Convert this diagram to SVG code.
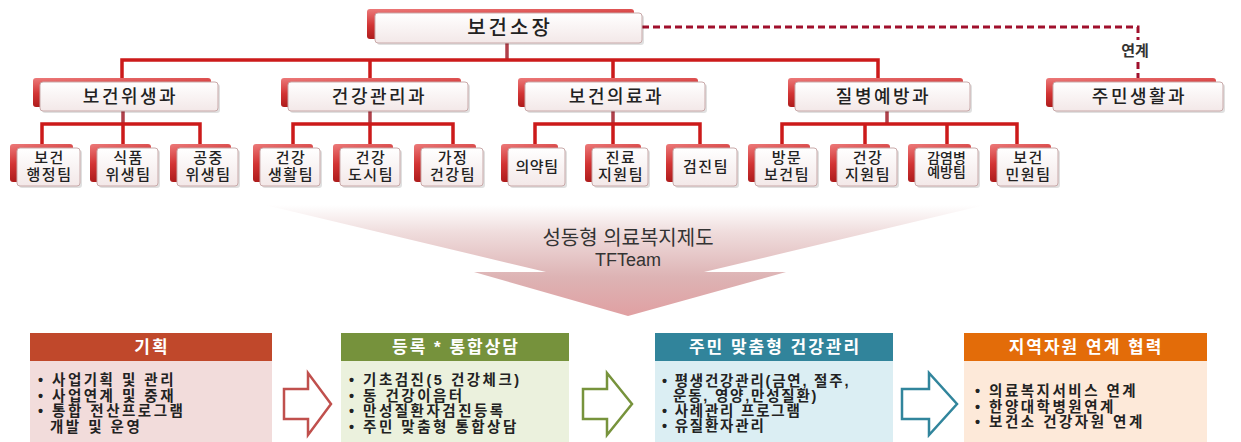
<svg xmlns="http://www.w3.org/2000/svg" width="1241" height="442" viewBox="0 0 1241 442">
<defs>
<linearGradient id="gBack" x1="0" y1="0" x2="0.3" y2="1">
<stop offset="0" stop-color="#ec7a7a"/>
<stop offset="0.5" stop-color="#d23434"/>
<stop offset="1" stop-color="#a81818"/>
</linearGradient>
<linearGradient id="gFront" x1="0" y1="0" x2="0" y2="1">
<stop offset="0" stop-color="#ffffff"/>
<stop offset="1" stop-color="#f3e8e8"/>
</linearGradient>
<linearGradient id="gFunnel" x1="0" y1="0" x2="0" y2="1">
<stop offset="0" stop-color="#ffffff"/>
<stop offset="0.25" stop-color="#efdcdc"/>
<stop offset="0.65" stop-color="#ddb3b4"/>
<stop offset="1" stop-color="#e0a0a2"/>
</linearGradient>
<style>
.back{fill:url(#gBack);}
.front{fill:url(#gFront);stroke:#c9a9a9;stroke-width:1;}
.shadow{fill:#000;opacity:0.12;}
.t{font-family:"Liberation Sans","Noto Sans CJK KR",sans-serif;fill:#222;text-anchor:middle;}
.n1{font-size:20px;font-weight:500;letter-spacing:3px;}
.n2{font-size:18px;font-weight:500;letter-spacing:2.5px;}
.n3{font-size:15px;font-weight:500;letter-spacing:1.5px;}
.ln{fill:none;stroke:#cc1a1a;stroke-width:3.5;}
.stem{fill:none;stroke:#b0404a;stroke-width:3.5;}
.dash{fill:none;stroke:#a0102c;stroke-width:3;stroke-dasharray:7 4;}
.hd{font-family:"Liberation Sans","Noto Sans CJK KR",sans-serif;font-size:17px;font-weight:700;fill:#fff;text-anchor:middle;letter-spacing:2px;}
.bt{font-family:"Liberation Sans","Noto Sans CJK KR",sans-serif;font-size:14.5px;font-weight:700;fill:#222;letter-spacing:2.5px;}
.arr{fill:#fff;stroke-width:2.5;stroke-linejoin:miter;}
</style>
</defs>
<rect width="1241" height="442" fill="#fff"/>

<!-- funnel arrow -->
<g id="funnel">
<path d="M265,205 L985,205 L704,272 L786,272 L628,316 L474,272 L546,272 Z" fill="url(#gFunnel)"/>
<text class="t" x="628" y="245" style="font-size:20px;fill:#333">성동형 의료복지제도</text>
<text class="t" x="628" y="266" style="font-size:18px;fill:#333">TFTeam</text>
</g>

<!-- connectors -->
<g id="connectors">
<path class="stem" d="M507,43 V60"/>
<path class="ln" d="M122,78 V60 H878 V78 M370,60 V78 M613,60 V78"/>
<path class="stem" d="M123,110 V124 M370,110 V124 M613,110 V124 M887,110 V124"/>
<path class="ln" d="M42,144 V124 H200 V144 M123,124 V144"/>
<path class="ln" d="M293,144 V124 H453 V144 M370,124 V144"/>
<path class="ln" d="M535,144 V124 H700 V144 M613,124 V144"/>
<path class="ln" d="M782,144 V124 H1017 V144 M865,124 V144 M947,124 V144"/>
<path class="dash" d="M642,27 H1138 V40 M1138,62 V79"/>
<text class="t" x="1135" y="56" style="font-size:15px;font-weight:700;fill:#333">연계</text>
</g>

<!-- top node -->
<g id="n-boss">
<rect class="back" x="367" y="9" width="267" height="30" rx="3"/>
<rect class="shadow" x="377" y="15" width="267" height="30" rx="3"/>
<rect class="front" x="375" y="13" width="267" height="30" rx="3"/>
<text class="t n1" x="510" y="35">보건소장</text>
</g>

<!-- level 2 -->
<g id="n-d1">
<rect class="back" x="33" y="78" width="178" height="29" rx="3"/>
<rect class="shadow" x="42" y="84" width="178" height="29" rx="3"/>
<rect class="front" x="40" y="82" width="178" height="29" rx="3"/>
<text class="t n2" x="130.5" y="103">보건위생과</text>
</g>
<g id="n-d2">
<rect class="back" x="281" y="78" width="180" height="29" rx="3"/>
<rect class="shadow" x="290" y="84" width="180" height="29" rx="3"/>
<rect class="front" x="288" y="82" width="180" height="29" rx="3"/>
<text class="t n2" x="379.5" y="103">건강관리과</text>
</g>
<g id="n-d3">
<rect class="back" x="518" y="78" width="180" height="29" rx="3"/>
<rect class="shadow" x="527" y="84" width="180" height="29" rx="3"/>
<rect class="front" x="525" y="82" width="180" height="29" rx="3"/>
<text class="t n2" x="616.5" y="103">보건의료과</text>
</g>
<g id="n-d4">
<rect class="back" x="788" y="78" width="175" height="29" rx="3"/>
<rect class="shadow" x="797" y="84" width="175" height="29" rx="3"/>
<rect class="front" x="795" y="82" width="175" height="29" rx="3"/>
<text class="t n2" x="883.5" y="103">질병예방과</text>
</g>
<g id="n-d5">
<rect class="back" x="1046" y="78" width="170" height="29" rx="3"/>
<rect class="shadow" x="1055" y="84" width="170" height="29" rx="3"/>
<rect class="front" x="1053" y="82" width="170" height="29" rx="3"/>
<text class="t n2" x="1139.5" y="103">주민생활과</text>
</g>

<!-- teams -->
<g id="n-t1">
<rect class="back" x="10" y="144" width="63" height="38" rx="3"/>
<rect class="shadow" x="19" y="150" width="63" height="38" rx="3"/>
<rect class="front" x="17" y="148" width="63" height="38" rx="3"/>
<text class="t n3"><tspan x="49.5" y="163">보건</tspan><tspan x="49.5" y="180">행정팀</tspan></text>
</g>
<g id="n-t2">
<rect class="back" x="90" y="144" width="61" height="38" rx="3"/>
<rect class="shadow" x="99" y="150" width="61" height="38" rx="3"/>
<rect class="front" x="97" y="148" width="61" height="38" rx="3"/>
<text class="t n3"><tspan x="128.5" y="163">식품</tspan><tspan x="128.5" y="180">위생팀</tspan></text>
</g>
<g id="n-t3">
<rect class="back" x="170" y="144" width="61" height="38" rx="3"/>
<rect class="shadow" x="179" y="150" width="61" height="38" rx="3"/>
<rect class="front" x="177" y="148" width="61" height="38" rx="3"/>
<text class="t n3"><tspan x="208.5" y="163">공중</tspan><tspan x="208.5" y="180">위생팀</tspan></text>
</g>
<g id="n-t4">
<rect class="back" x="253" y="144" width="60" height="38" rx="3"/>
<rect class="shadow" x="262" y="150" width="60" height="38" rx="3"/>
<rect class="front" x="260" y="148" width="60" height="38" rx="3"/>
<text class="t n3"><tspan x="291" y="163">건강</tspan><tspan x="291" y="180">생활팀</tspan></text>
</g>
<g id="n-t5">
<rect class="back" x="333" y="144" width="60" height="38" rx="3"/>
<rect class="shadow" x="342" y="150" width="60" height="38" rx="3"/>
<rect class="front" x="340" y="148" width="60" height="38" rx="3"/>
<text class="t n3"><tspan x="371" y="163">건강</tspan><tspan x="371" y="180">도시팀</tspan></text>
</g>
<g id="n-t6">
<rect class="back" x="414" y="144" width="62" height="38" rx="3"/>
<rect class="shadow" x="423" y="150" width="62" height="38" rx="3"/>
<rect class="front" x="421" y="148" width="62" height="38" rx="3"/>
<text class="t n3"><tspan x="453" y="163">가정</tspan><tspan x="453" y="180">건강팀</tspan></text>
</g>
<g id="n-t7">
<rect class="back" x="501" y="144" width="57" height="38" rx="3"/>
<rect class="shadow" x="510" y="150" width="57" height="38" rx="3"/>
<rect class="front" x="508" y="148" width="57" height="38" rx="3"/>
<text class="t n3" x="537" y="172" style="letter-spacing:0.5px">의약팀</text>
</g>
<g id="n-t8">
<rect class="back" x="585" y="144" width="56" height="38" rx="3"/>
<rect class="shadow" x="594" y="150" width="56" height="38" rx="3"/>
<rect class="front" x="592" y="148" width="56" height="38" rx="3"/>
<text class="t n3"><tspan x="621" y="163">진료</tspan><tspan x="621" y="180">지원팀</tspan></text>
</g>
<g id="n-t9">
<rect class="back" x="666" y="144" width="64" height="38" rx="3"/>
<rect class="shadow" x="675" y="150" width="64" height="38" rx="3"/>
<rect class="front" x="673" y="148" width="64" height="38" rx="3"/>
<text class="t n3" x="706" y="172">검진팀</text>
</g>
<g id="n-t10">
<rect class="back" x="748" y="144" width="62" height="38" rx="3"/>
<rect class="shadow" x="757" y="150" width="62" height="38" rx="3"/>
<rect class="front" x="755" y="148" width="62" height="38" rx="3"/>
<text class="t n3"><tspan x="787" y="163">방문</tspan><tspan x="787" y="180">보건팀</tspan></text>
</g>
<g id="n-t11">
<rect class="back" x="830" y="144" width="60" height="38" rx="3"/>
<rect class="shadow" x="839" y="150" width="60" height="38" rx="3"/>
<rect class="front" x="837" y="148" width="60" height="38" rx="3"/>
<text class="t n3"><tspan x="868" y="163">건강</tspan><tspan x="868" y="180">지원팀</tspan></text>
</g>
<g id="n-t12">
<rect class="back" x="908" y="144" width="63" height="38" rx="3"/>
<rect class="shadow" x="917" y="150" width="63" height="38" rx="3"/>
<rect class="front" x="915" y="148" width="63" height="38" rx="3"/>
<text class="t n3" style="font-size:14px;letter-spacing:0px"><tspan x="946.5" y="163">감염병</tspan><tspan x="946.5" y="177">예방팀</tspan></text>
</g>
<g id="n-t13">
<rect class="back" x="990" y="144" width="61" height="38" rx="3"/>
<rect class="shadow" x="999" y="150" width="61" height="38" rx="3"/>
<rect class="front" x="997" y="148" width="61" height="38" rx="3"/>
<text class="t n3"><tspan x="1028.5" y="163">보건</tspan><tspan x="1028.5" y="180">민원팀</tspan></text>
</g>

<!-- bottom process -->
<g id="p1">
<rect x="30" y="360" width="242" height="82" fill="#f2dcdb"/>
<rect x="30" y="333" width="242" height="28" fill="#c0482b"/>
<text class="hd" x="152" y="353">기획</text>
<text class="bt"><tspan x="38" y="385">• 사업기획 및 관리</tspan><tspan x="38" y="400.5">• 사업연계 및 중재</tspan><tspan x="38" y="416">• 통합 전산프로그램</tspan><tspan x="50" y="431.5">개발 및 운영</tspan></text>
</g>
<g id="a1"><path class="arr" stroke="#c0504d" d="M284,389 H308 V373 L331,404 L308,435 V419 H284 Z"/></g>
<g id="p2">
<rect x="341" y="360" width="228" height="82" fill="#ebf1dd"/>
<rect x="341" y="333" width="228" height="28" fill="#76923c"/>
<text class="hd" x="456" y="353">등록 * 통합상담</text>
<text class="bt"><tspan x="349" y="385">• 기초검진(5 건강체크)</tspan><tspan x="349" y="400.5">• 동 건강이음터</tspan><tspan x="349" y="416">• 만성질환자검진등록</tspan><tspan x="349" y="431.5">• 주민 맞춤형 통합상담</tspan></text>
</g>
<g id="a2"><path class="arr" stroke="#77933c" d="M583,389 H607 V373 L632,404 L607,435 V419 H583 Z"/></g>
<g id="p3">
<rect x="655" y="360" width="238" height="82" fill="#dbeef3"/>
<rect x="655" y="333" width="238" height="28" fill="#31849b"/>
<text class="hd" x="775" y="353">주민 맞춤형 건강관리</text>
<text class="bt" style="letter-spacing:1.8px"><tspan x="662" y="386">• 평생건강관리(금연, 절주,</tspan><tspan x="673" y="401">운동, 영양,만성질환)</tspan><tspan x="662" y="416">• 사례관리 프로그램</tspan><tspan x="662" y="431">• 유질환자관리</tspan></text>
</g>
<g id="a3"><path class="arr" stroke="#31859c" d="M902,389 H929 V373 L957,404 L929,435 V419 H902 Z"/></g>
<g id="p4">
<rect x="964" y="360" width="243" height="82" fill="#fde9d9"/>
<rect x="964" y="333" width="243" height="28" fill="#e36c09"/>
<text class="hd" x="1086" y="353">지역자원 연계 협력</text>
<text class="bt"><tspan x="975" y="396">• 의료복지서비스 연계</tspan><tspan x="975" y="411.5">• 한양대학병원연계</tspan><tspan x="975" y="427">• 보건소 건강자원 연계</tspan></text>
</g>
</svg>
